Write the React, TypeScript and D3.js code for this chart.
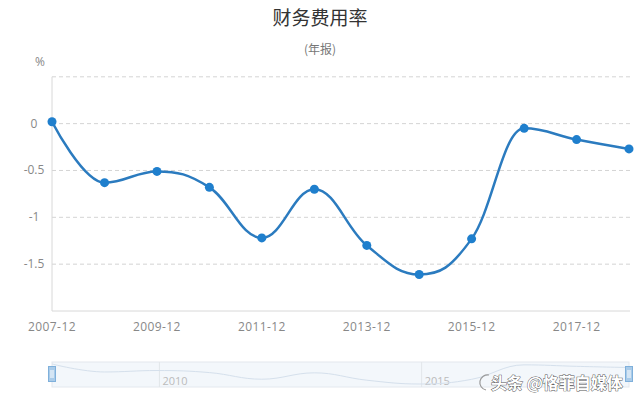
import React from "react";
import * as d3 from "d3";

const categories = ["2007-12","2008-12","2009-12","2010-12","2011-12","2012-12","2013-12","2014-12","2015-12","2016-12","2017-12","2018-12"];
const values = [0.02,-0.63,-0.51,-0.68,-1.22,-0.70,-1.30,-1.61,-1.23,-0.05,-0.17,-0.27];
const yTicks = [0.5, 0, -0.5, -1, -1.5, -2];
const yLabels = ["0", "-0.5", "-1", "-1.5"];
const xTickLabels = ["2007-12","2009-12","2011-12","2013-12","2015-12","2017-12"];
const navYears = [2010, 2015];

const W = 640, H = 405;
const left = 52, right = 629, top = 76.8, bottom = 311;
const FONT = "'Open Sans', 'Noto Sans', sans-serif";
const CJK = "'Noto Sans CJK SC', sans-serif";

function parseCat(c: string) {
  const [y, m] = c.split("-").map(Number);
  return new Date(y, m - 1, 15);
}

type P = { x: number; y: number; rcx?: number; rcy?: number };

function hcSpline(pts: { x: number; y: number }[]) {
  const points: P[] = pts.map((p) => ({ ...p }));
  const sm = 1.5, denom = sm + 1;
  let d = `M${points[0].x},${points[0].y}`;
  for (let i = 1; i < points.length; i++) {
    const p = points[i], last = points[i - 1], next = points[i + 1];
    let lcx: number | undefined, lcy: number | undefined;
    if (next) {
      lcx = (sm * p.x + last.x) / denom;
      lcy = (sm * p.y + last.y) / denom;
      const rcx = (sm * p.x + next.x) / denom;
      let rcy = (sm * p.y + next.y) / denom;
      if (rcx !== lcx) {
        const corr = ((rcy - lcy) * (rcx - p.x)) / (rcx - lcx) + p.y - rcy;
        lcy += corr; rcy += corr;
      }
      if (lcy > last.y && lcy > p.y) { lcy = Math.max(last.y, p.y); rcy = 2 * p.y - lcy; }
      else if (lcy < last.y && lcy < p.y) { lcy = Math.min(last.y, p.y); rcy = 2 * p.y - lcy; }
      if (rcy > next.y && rcy > p.y) { rcy = Math.max(next.y, p.y); lcy = 2 * p.y - rcy; }
      else if (rcy < next.y && rcy < p.y) { rcy = Math.min(next.y, p.y); lcy = 2 * p.y - rcy; }
      p.rcx = rcx; p.rcy = rcy;
    }
    d += `C${last.rcx ?? last.x},${last.rcy ?? last.y},${lcx ?? p.x},${lcy ?? p.y},${p.x},${p.y}`;
  }
  return d;
}

export default function App() {
  const dates = categories.map(parseCat);
  const x = d3.scaleTime().domain([dates[0], dates[dates.length - 1]]).range([left, right]);
  const y = d3.scaleLinear().domain([-2, 0.5]).range([bottom, top]);
  const pts = values.map((v, i) => ({ x: x(dates[i]), y: y(v) }));
  const path = hcSpline(pts);

  const navTop = 362, navBot = 387;
  const ny = d3.scaleLinear().domain(d3.extent(values) as [number, number]).range([navBot - 3, navTop + 2]);
  const navPts = values.map((v, i) => ({ x: x(dates[i]), y: ny(v) }));
  const navPath = hcSpline(navPts);

  const handle = (cx: number) => (
    <g transform={`translate(${cx},374)`}>
      <rect x={-3.5} y={-7.5} width={7} height={15} fill="#a9cbe9" stroke="#7fb0db" strokeWidth={1} />
      <line x1={-1} x2={-1} y1={-4} y2={4} stroke="#fff" />
      <line x1={1} x2={1} y1={-4} y2={4} stroke="#fff" />
    </g>
  );

  return (
    <svg width={W} height={H} style={{ position: "absolute", left: 0, top: 0, background: "#fff" }}>
      <text x={320} y={25} textAnchor="middle" fontFamily={CJK} fontSize={19} fill="#333">财务费用率</text>
      <text x={320} y={54} textAnchor="middle" fontFamily={CJK} fontSize={12} fill="#777">(年报)</text>
      <text x={40} y={66} textAnchor="middle" fontFamily={FONT} fontSize={12} fill="#888">%</text>

      {yTicks.slice(0, -1).map((t) => (
        <line key={t} x1={left} x2={right + 1} y1={y(t)} y2={y(t)} stroke="#d4d4d4" strokeDasharray="4,3" />
      ))}
      <line x1={left} x2={left} y1={top} y2={bottom} stroke="#d8d8d8" />
      <line x1={left} x2={right + 1} y1={bottom} y2={bottom} stroke="#d8d8d8" />

      {yLabels.map((l) => (
        <text key={l} x={34} y={y(Number(l)) + 4} textAnchor="middle" fontFamily={FONT} fontSize={12} fill="#888">{l}</text>
      ))}
      {xTickLabels.map((l) => (
        <text key={l} x={x(parseCat(l))} y={331} textAnchor="middle" fontFamily={FONT} fontSize={12} letterSpacing={0.4} fill="#888">{l}</text>
      ))}

      <path d={path} fill="none" stroke="#2b7bbf" strokeWidth={2.5} />
      {pts.map((p, i) => (
        <circle key={i} cx={p.x} cy={p.y} r={4.5} fill="#1f7fcd" />
      ))}

      {/* navigator */}
      <rect x={left} y={navTop} width={right - left} height={navBot - navTop} fill="#f3f7fb" stroke="#e3e8ee" />
      {navYears.map((yr) => {
        const gx = x(new Date(yr, 0, 1));
        return (
          <g key={yr}>
            <line x1={gx} x2={gx} y1={navTop} y2={navBot} stroke="#e2e6ea" />
            <text x={gx + 3} y={385} fontFamily={FONT} fontSize={11} fill="#bbb">{yr}</text>
          </g>
        );
      })}
      <path d={navPath} fill="none" stroke="#d5e0ec" strokeWidth={1} />
      {handle(left)}
      {handle(right)}

      {/* watermark */}
      <path d="M489,375 A7,7 0 1,0 486,390" fill="none" stroke="#999" strokeWidth={1.2} />
      <text x={491} y={389} fontFamily={CJK} fontSize={16} fontWeight="bold" fill="#fff" stroke="#555" strokeWidth={0.9} style={{ paintOrder: "stroke" }}>头条 @恪菲自媒体</text>
    </svg>
  );
}
